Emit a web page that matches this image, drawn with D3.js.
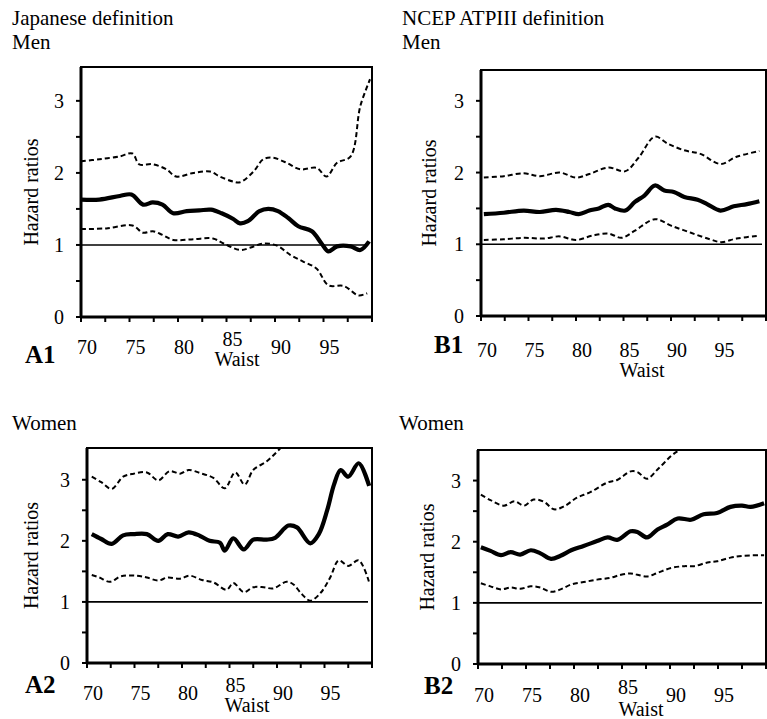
<!DOCTYPE html>
<html>
<head>
<meta charset="utf-8">
<script src="https://cdn.jsdelivr.net/npm/d3@7"></script>
<style>
body { margin: 0; background: #fff; }
svg { display: block; font-family: "Liberation Serif", "Times New Roman", serif; }
</style>
</head>
<body>
<svg id="chart" width="767" height="719"></svg>
<script>
"use strict"

// [waist, hazard ratio]
const a1Hr = [[70,1.63],[71.9,1.63],[74,1.68],[75.2,1.70],[76.4,1.56],[77.4,1.59],[78.4,1.56],[79.5,1.44],[80.9,1.47],[82.2,1.48],[83.4,1.49],[84.5,1.44],[85.7,1.36],[86.4,1.30],[87.2,1.33],[88.4,1.47],[89.3,1.50],[90.3,1.47],[91.4,1.37],[92.4,1.26],[93.8,1.19],[94.8,1.02],[95.5,0.91],[96.4,0.98],[97.8,0.98],[98.8,0.93],[99.7,1.05]]
const a1Lower = [[70,1.22],[72.6,1.23],[75.3,1.27],[76.4,1.17],[77.4,1.19],[78.4,1.14],[79.5,1.07],[81.6,1.08],[83.6,1.09],[84.7,1.02],[86.4,0.93],[87.4,0.96],[88.8,1.02],[90.2,0.99],[91.6,0.86],[92.9,0.77],[94.3,0.67],[95.5,0.44],[97.1,0.43],[98.6,0.30],[99.5,0.33]]
const a1Upper = [[70,2.16],[71.9,2.19],[74,2.23],[75.3,2.27],[76,2.12],[77.4,2.12],[78.8,2.05],[79.8,1.95],[81.6,2.0],[83.3,2.02],[84.3,1.95],[85.7,1.88],[86.4,1.87],[87.8,2.02],[88.8,2.19],[89.8,2.21],[91.2,2.14],[92.6,2.05],[94.3,2.07],[95.3,1.95],[96.4,2.14],[97.8,2.23],[98.8,2.93],[99.8,3.30]]

const b1Hr = [[70.3,1.42],[72.4,1.44],[74.5,1.47],[76.2,1.45],[77.9,1.48],[79.3,1.45],[80.3,1.42],[81.4,1.47],[82.4,1.50],[83.4,1.55],[84.1,1.50],[85.2,1.47],[86.2,1.59],[87.2,1.68],[88.3,1.82],[89.3,1.75],[90.3,1.73],[91.4,1.66],[92.8,1.62],[93.8,1.56],[95.2,1.47],[96.6,1.53],[98,1.56],[99.3,1.60]]
const b1Lower = [[70.3,1.06],[72.4,1.07],[74.5,1.09],[76.6,1.08],[78.3,1.11],[80,1.06],[81.7,1.12],[83.4,1.15],[84.8,1.09],[86.2,1.19],[88.3,1.35],[90,1.26],[92.1,1.16],[94.1,1.07],[95.3,1.03],[96.9,1.08],[99.3,1.12]]
const b1Upper = [[70.3,1.93],[72.4,1.95],[74.5,1.99],[76.2,1.95],[78.3,2.0],[80,1.93],[81.4,1.98],[83.4,2.07],[85.2,2.02],[86.6,2.21],[88.3,2.50],[89.7,2.40],[91.4,2.31],[93.1,2.26],[95.2,2.12],[96.9,2.22],[99.3,2.30]]

const a2Hr = [[70.5,2.11],[71.5,2.03],[72.6,1.95],[73.8,2.09],[74.9,2.11],[76.3,2.11],[77.5,2.0],[78.5,2.11],[79.6,2.07],[80.7,2.14],[81.9,2.08],[82.9,2.0],[84,1.97],[84.5,1.84],[85.4,2.04],[86.5,1.86],[87.5,2.02],[88.9,2.02],[89.8,2.05],[91.2,2.25],[92.1,2.22],[93.5,1.96],[94.4,2.11],[95.3,2.51],[96,2.92],[96.7,3.16],[97.5,3.05],[98.6,3.27],[99.7,2.90]]
const a2Lower = [[70.5,1.44],[71.3,1.40],[72.4,1.33],[73.6,1.42],[75.2,1.43],[76.3,1.40],[77.5,1.35],[78.5,1.40],[79.8,1.38],[80.8,1.43],[82.1,1.36],[83.3,1.32],[84.7,1.20],[85.4,1.31],[86.5,1.16],[87.5,1.24],[88.6,1.24],[89.6,1.22],[91,1.33],[91.7,1.29],[92.6,1.13],[93.5,1.02],[94.6,1.15],[95.6,1.40],[96.5,1.68],[97.5,1.59],[98.6,1.68],[99.7,1.32]]
const a2Upper = [[70.5,3.05],[71.5,2.96],[72.6,2.85],[73.8,3.05],[74.9,3.10],[76.3,3.12],[77.5,2.99],[78.7,3.14],[79.8,3.10],[80.7,3.16],[81.9,3.11],[83.3,3.03],[84.5,2.86],[85.6,3.12],[86.6,2.92],[87.5,3.16],[88.9,3.30],[90.2,3.49],[91.5,3.7],[93,3.9],[95,4.6],[97,5.2],[99.7,5.0]]

const b2Hr = [[70.3,1.91],[71.3,1.85],[72.4,1.78],[73.4,1.83],[74.4,1.79],[75.5,1.86],[76.5,1.81],[77.6,1.72],[78.6,1.77],[79.7,1.86],[81,1.93],[82.4,2.01],[83.5,2.07],[84.5,2.03],[85.9,2.17],[86.6,2.16],[87.6,2.07],[88.7,2.20],[89.7,2.28],[90.8,2.38],[92.2,2.36],[93.5,2.45],[94.9,2.47],[96.3,2.57],[97.5,2.59],[98.4,2.57],[99.8,2.63]]
const b2Lower = [[70.3,1.32],[71.3,1.27],[72.4,1.22],[73.4,1.25],[74.4,1.23],[75.5,1.27],[76.5,1.25],[77.6,1.18],[78.6,1.22],[79.7,1.30],[81,1.34],[82.4,1.38],[83.8,1.41],[84.9,1.46],[85.9,1.48],[86.6,1.46],[87.6,1.43],[88.7,1.49],[90.1,1.57],[91.5,1.60],[92.5,1.60],[93.9,1.66],[94.9,1.68],[96.3,1.74],[97.7,1.77],[99.8,1.78]]
const b2Upper = [[70.3,2.77],[71.3,2.68],[72.7,2.59],[73.8,2.66],[74.8,2.59],[75.8,2.69],[76.9,2.65],[77.9,2.53],[79,2.58],[80.3,2.72],[81.7,2.81],[83.5,2.97],[84.5,3.01],[85.9,3.15],[86.6,3.14],[87.6,3.03],[88.7,3.18],[90.1,3.40],[90.8,3.48],[92,3.56],[94,3.7],[96,3.9],[99.8,4.1]]

const xTicks = d3.range(70, 100.01, 2.5)
const xLabels = [70, 75, 80, 85, 90, 95]
const yTicks = [0, 0.5, 1, 1.5, 2, 2.5, 3]
const yLabels = [0, 1, 2, 3]
const refValue = 1

const svg = d3.select("#chart")
const font = 20
const titleFont = 21

const panels = [
    {id: "a1", title: ["Japanese definition", "Men"], tag: "A1", hr: a1Hr, lower: a1Lower, upper: a1Upper,
        left: 81, right: 372, top: 67, bottom: 317, yMax: 3.47, titleX: 12, titleY: 25,
        tagX: 25, tagY: 363, labelDy: 37, lift85: 8, waistX: 237, waistY: 366, hazX: 38},
    {id: "b1", title: ["NCEP ATPIII definition", "Men"], tag: "B1", hr: b1Hr, lower: b1Lower, upper: b1Upper,
        left: 481, right: 766, top: 70, bottom: 316, yMax: 3.43, titleX: 402, titleY: 25,
        tagX: 434, tagY: 353, labelDy: 41, lift85: 0, waistX: 642, waistY: 377, hazX: 436},
    {id: "a2", title: ["Women"], tag: "A2", hr: a2Hr, lower: a2Lower, upper: a2Upper,
        left: 87, right: 372, top: 448, bottom: 663, yMax: 3.52, titleX: 12, titleY: 430,
        tagX: 25, tagY: 693, labelDy: 37, lift85: 8, waistX: 247, waistY: 712, hazX: 38},
    {id: "b2", title: ["Women"], tag: "B2", hr: b2Hr, lower: b2Lower, upper: b2Upper,
        left: 478, right: 766, top: 450, bottom: 664, yMax: 3.5, titleX: 399, titleY: 430,
        tagX: 424, tagY: 694, labelDy: 38, lift85: 8, waistX: 641, waistY: 716, hazX: 434}
]

panels.forEach(p => renderPanel(p))

function renderPanel(p) {
    const x = d3.scaleLinear().domain([70, 100]).range([p.left, p.right])
    const y = d3.scaleLinear().domain([0, p.yMax]).range([p.bottom, p.top])
    const g = svg.append("g").attr("id", "panel_" + p.id)

    g.selectAll(".title")
        .data(p.title)
        .enter()
        .append("text")
        .attr("x", p.titleX)
        .attr("y", (d, i) => p.titleY + i * 24)
        .style("font-size", titleFont + "px")
        .text(d => d)

    g.append("clipPath")
        .attr("id", "clip_" + p.id)
        .append("rect")
        .attr("x", p.left)
        .attr("y", p.top)
        .attr("width", p.right - p.left)
        .attr("height", p.bottom - p.top)

    // reference line at HR = 1
    g.append("line")
        .attr("x1", p.left)
        .attr("x2", p.right - 4)
        .attr("y1", y(refValue))
        .attr("y2", y(refValue))
        .style("stroke", "#000")
        .style("stroke-width", 1.6)

    const line = d3.line()
        .x(d => x(d[0]))
        .y(d => y(d[1]))
        .curve(d3.curveCatmullRom)

    const plot = g.append("g").attr("clip-path", "url(#clip_" + p.id + ")")

    plot.selectAll(".ci")
        .data([p.lower, p.upper])
        .enter()
        .append("path")
        .attr("class", "ci")
        .attr("d", line)
        .style("fill", "none")
        .style("stroke", "#000")
        .style("stroke-width", 2)
        .style("stroke-dasharray", "5,3")

    plot.append("path")
        .attr("d", line(p.hr))
        .style("fill", "none")
        .style("stroke", "#000")
        .style("stroke-width", 4.2)
        .style("stroke-linejoin", "round")

    // frame
    g.append("rect")
        .attr("x", p.left)
        .attr("y", p.top)
        .attr("width", p.right - p.left)
        .attr("height", p.bottom - p.top)
        .style("fill", "none")
        .style("stroke", "#000")
        .style("stroke-width", 2)

    g.append("line")
        .attr("x1", p.left).attr("x2", p.left)
        .attr("y1", p.top).attr("y2", p.bottom)
        .style("stroke", "#000").style("stroke-width", 3)
    g.append("line")
        .attr("x1", p.left).attr("x2", p.right)
        .attr("y1", p.bottom).attr("y2", p.bottom)
        .style("stroke", "#000").style("stroke-width", 3)

    g.selectAll(".xtick")
        .data(xTicks)
        .enter()
        .append("line")
        .attr("x1", d => x(d)).attr("x2", d => x(d))
        .attr("y1", p.bottom).attr("y2", p.bottom + 5)
        .style("stroke", "#000").style("stroke-width", 2)

    g.selectAll(".xlabel")
        .data(xLabels)
        .enter()
        .append("text")
        .attr("x", d => x(d) + 6)
        .attr("y", d => p.bottom + p.labelDy - (d === 85 ? p.lift85 : 0))
        .style("text-anchor", "middle")
        .style("font-size", font + "px")
        .text(d => d)

    g.selectAll(".ytick")
        .data(yTicks.filter(d => d <= p.yMax))
        .enter()
        .append("line")
        .attr("x1", p.left - 5).attr("x2", p.left)
        .attr("y1", d => y(d)).attr("y2", d => y(d))
        .style("stroke", "#000").style("stroke-width", 2)

    g.selectAll(".ylabel")
        .data(yLabels)
        .enter()
        .append("text")
        .attr("x", p.left - 17)
        .attr("y", d => y(d))
        .attr("dy", "0.35em")
        .style("text-anchor", "end")
        .style("font-size", font + "px")
        .text(d => d)

    g.append("text")
        .attr("transform", "translate(" + p.hazX + "," + ((p.top + p.bottom) / 2) + ") rotate(-90)")
        .style("text-anchor", "middle")
        .style("font-size", font + "px")
        .text("Hazard ratios")

    g.append("text")
        .attr("x", p.waistX)
        .attr("y", p.waistY)
        .style("text-anchor", "middle")
        .style("font-size", font + "px")
        .text("Waist")

    g.append("text")
        .attr("x", p.tagX)
        .attr("y", p.tagY)
        .style("font-size", "25px")
        .style("font-weight", "bold")
        .text(p.tag)
}
</script>
</body>
</html>
